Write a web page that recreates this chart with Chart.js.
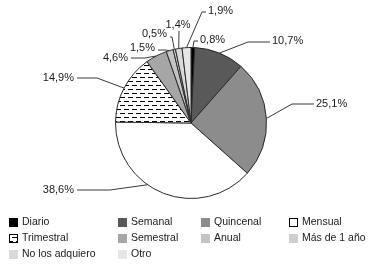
<!DOCTYPE html>
<html>
<head>
<meta charset="utf-8">
<script src="https://cdn.jsdelivr.net/npm/chart.js@4.4.1/dist/chart.umd.min.js"></script>
<style>
html,body{margin:0;padding:0;background:#fff;}
#wrap{width:380px;height:267px;position:relative;}
</style>
</head>
<body>
<div id="wrap"><canvas id="pie_canvas"></canvas></div>
<script>
var categorias = ['Diario','Semanal','Quincenal','Mensual','Trimestral','Semestral','Anual','Más de 1 año','No los adquiero','Otro'];
var porcentajes = [0.8, 10.7, 25.1, 38.6, 14.9, 4.6, 1.5, 0.5, 1.4, 1.9];

// rayado para Trimestral
function makePattern(){
    var c = document.createElement('canvas');
    c.width = 8; c.height = 8;
    var p = c.getContext('2d');
    p.fillStyle = '#fff';
    p.fillRect(0,0,8,8);
    p.fillStyle = '#000';
    p.fillRect(0,1,5,1);
    p.fillRect(4,5,4,1);
    p.fillRect(0,5,1,1);
    return p.createPattern(c,'repeat');
}
var rayado = makePattern();
var colores = ['#000000','#595959','#8c8c8c','#ffffff',rayado,'#a6a6a6','#c4c4c4','#d0d0d0','#dadada','#e6e6e6'];

// posicion de etiquetas relativa al centro: codo (e), texto (t), f = punto de anclaje en la porcion
var labelLayout = [
    {e:[3,-82],  t:[9,-83],    align:'left'},
    {e:[57,-81], t:[81,-82],   align:'left'},
    {e:[101,-19],t:[125,-19],  align:'left'},
    {e:[-81,67], t:[-117,67],  align:'right', f:0.6},
    {e:[-94,-45],t:[-117,-45], align:'right'},
    {e:[-46,-65],t:[-63,-65],  align:'right'},
    {e:[-26,-73],t:[-36,-75],  align:'right'},
    {e:[-19,-86],t:[-24,-89],  align:'right'},
    {e:[-12,-92],t:[-13,-98],  align:'center'},
    {e:[11,-111],t:[17,-112],  align:'left'}
];
var fuenteEtiq = '11px "Liberation Sans", Arial, sans-serif';
var fuenteLey = '10.5px "Liberation Sans", Arial, sans-serif';

function formato(v){
    return v.toFixed(1).replace('.',',') + '%';
}

var etiquetasPlugin = {
    id: 'etiquetas',
    afterDatasetsDraw: function(chart){
        var ctx = chart.ctx;
        var arcs = chart.getDatasetMeta(0).data;
        ctx.save();
        ctx.font = fuenteEtiq;
        ctx.textBaseline = 'middle';
        ctx.strokeStyle = '#3a3a3a';
        ctx.lineWidth = 1;
        ctx.fillStyle = '#1a1a1a';
        for (var i = 0; i < arcs.length; i++) {
            var a = arcs[i];
            var L = labelLayout[i];
            var f = L.f || 0.5;
            var ang = a.startAngle + (a.endAngle - a.startAngle) * f;
            var sx = a.x + Math.cos(ang) * a.outerRadius;
            var sy = a.y + Math.sin(ang) * a.outerRadius;
            var ex = a.x + L.e[0], ey = a.y + L.e[1];
            var tx = a.x + L.t[0], ty = a.y + L.t[1];
            ctx.beginPath();
            ctx.moveTo(sx, sy);
            ctx.lineTo(ex, ey);
            if (L.align === 'left') ctx.lineTo(tx - 2, ey);
            if (L.align === 'right') ctx.lineTo(tx + 3, ey);
            ctx.stroke();
            ctx.textAlign = L.align;
            ctx.fillText(formato(porcentajes[i]), tx, ty);
        }
        ctx.restore();
    }
};

// leyenda en columnas
var legendCols = [9, 118, 201, 289];
var legendRows = [222, 238, 254];
var leyendaPlugin = {
    id: 'leyenda',
    afterDraw: function(chart){
        var ctx = chart.ctx;
        ctx.save();
        ctx.font = fuenteLey;
        ctx.textBaseline = 'middle';
        ctx.textAlign = 'left';
        for (var i = 0; i < categorias.length; i++) {
            var x = legendCols[i % 4];
            var y = legendRows[Math.floor(i / 4)];
            ctx.fillStyle = colores[i];
            ctx.fillRect(x, y - 4, 9, 9);
            if (i === 3 || i === 4) {
                ctx.strokeStyle = '#000';
                ctx.lineWidth = 1;
                ctx.strokeRect(x + 0.5, y - 3.5, 8, 8);
            }
            ctx.fillStyle = '#1a1a1a';
            ctx.fillText(categorias[i], x + 13, y + 0.5);
        }
        ctx.restore();
    }
};

var ctx1 = document.getElementById('pie_canvas');
var chart = new Chart(ctx1, {
    type: 'pie',
    data: {
        labels: categorias,
        datasets: [{
            data: porcentajes,
            backgroundColor: colores,
            borderColor: '#2a2a2a',
            borderWidth: 1
        }]
    },
    options: {
        responsive: true,
        maintainAspectRatio: false,
        animation: false,
        layout: { padding: { top: 47, bottom: 68, left: 2, right: 0 } },
        plugins: {
            legend: { display: false },
            tooltip: { enabled: false }
        }
    },
    plugins: [etiquetasPlugin, leyendaPlugin]
});
</script>
</body>
</html>
